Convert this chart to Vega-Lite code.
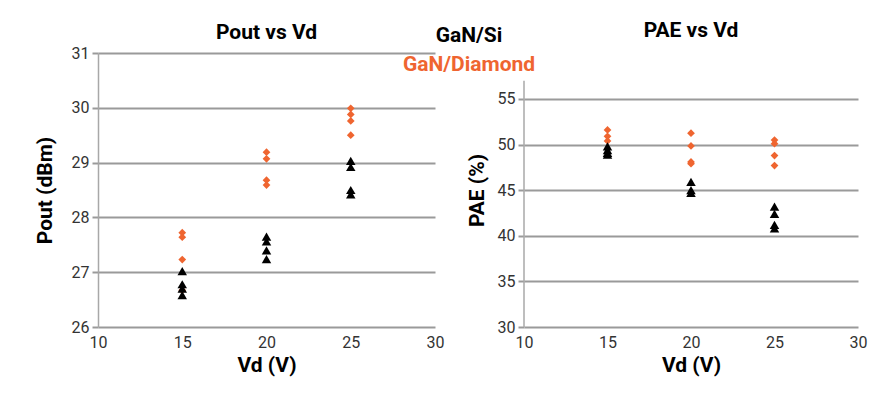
{
  "$schema": "https://vega.github.io/schema/vega-lite/v6.json",
  "background": "white",
  "padding": {"left": 34, "top": 20, "right": 5, "bottom": 5},
  "datasets": {
    "pout": [
      {"vd": 15, "series": "GaN/Diamond", "value": 27.72},
      {"vd": 15, "series": "GaN/Diamond", "value": 27.64},
      {"vd": 15, "series": "GaN/Diamond", "value": 27.23},
      {"vd": 15, "series": "GaN/Diamond", "value": 26.67},
      {"vd": 20, "series": "GaN/Diamond", "value": 29.19},
      {"vd": 20, "series": "GaN/Diamond", "value": 29.07},
      {"vd": 20, "series": "GaN/Diamond", "value": 28.68},
      {"vd": 20, "series": "GaN/Diamond", "value": 28.59},
      {"vd": 25, "series": "GaN/Diamond", "value": 29.99},
      {"vd": 25, "series": "GaN/Diamond", "value": 29.88},
      {"vd": 25, "series": "GaN/Diamond", "value": 29.76},
      {"vd": 25, "series": "GaN/Diamond", "value": 29.5},
      {"vd": 15, "series": "GaN/Si", "value": 27.02},
      {"vd": 15, "series": "GaN/Si", "value": 26.78},
      {"vd": 15, "series": "GaN/Si", "value": 26.7},
      {"vd": 15, "series": "GaN/Si", "value": 26.58},
      {"vd": 20, "series": "GaN/Si", "value": 27.65},
      {"vd": 20, "series": "GaN/Si", "value": 27.56},
      {"vd": 20, "series": "GaN/Si", "value": 27.4},
      {"vd": 20, "series": "GaN/Si", "value": 27.24},
      {"vd": 25, "series": "GaN/Si", "value": 29.03},
      {"vd": 25, "series": "GaN/Si", "value": 28.92},
      {"vd": 25, "series": "GaN/Si", "value": 28.5},
      {"vd": 25, "series": "GaN/Si", "value": 28.42}
    ],
    "pae": [
      {"vd": 15, "series": "GaN/Diamond", "value": 51.6},
      {"vd": 15, "series": "GaN/Diamond", "value": 50.9},
      {"vd": 15, "series": "GaN/Diamond", "value": 50.4},
      {"vd": 20, "series": "GaN/Diamond", "value": 51.25},
      {"vd": 20, "series": "GaN/Diamond", "value": 49.85},
      {"vd": 20, "series": "GaN/Diamond", "value": 48.1},
      {"vd": 20, "series": "GaN/Diamond", "value": 47.9},
      {"vd": 25, "series": "GaN/Diamond", "value": 50.5},
      {"vd": 25, "series": "GaN/Diamond", "value": 50.1},
      {"vd": 25, "series": "GaN/Diamond", "value": 48.8},
      {"vd": 25, "series": "GaN/Diamond", "value": 47.7},
      {"vd": 15, "series": "GaN/Si", "value": 49.8},
      {"vd": 15, "series": "GaN/Si", "value": 49.4},
      {"vd": 15, "series": "GaN/Si", "value": 49.1},
      {"vd": 15, "series": "GaN/Si", "value": 48.9},
      {"vd": 20, "series": "GaN/Si", "value": 45.9},
      {"vd": 20, "series": "GaN/Si", "value": 45.0},
      {"vd": 20, "series": "GaN/Si", "value": 44.7},
      {"vd": 25, "series": "GaN/Si", "value": 43.2},
      {"vd": 25, "series": "GaN/Si", "value": 42.4},
      {"vd": 25, "series": "GaN/Si", "value": 41.2},
      {"vd": 25, "series": "GaN/Si", "value": 40.8}
    ],
    "paeAxis": [
      {"vd": 10, "lo": 30, "hi": 57}
    ]
  },
  "spacing": 22,
  "hconcat": [
    {
      "width": 337,
      "height": 274,
      "title": {"text": "Pout vs Vd", "offset": 2},
      "data": {"name": "pout"},
      "mark": {"type": "point", "filled": true, "opacity": 1},
      "encoding": {
        "x": {
          "field": "vd", "type": "quantitative",
          "scale": {"domain": [10, 30]},
          "axis": {"title": "Vd (V)", "values": [10, 15, 20, 25, 30], "grid": false, "domain": false, "ticks": false, "labelPadding": 7, "labelFlush": false}
        },
        "y": {
          "field": "value", "type": "quantitative",
          "scale": {"domain": [26, 31]},
          "axis": {"title": "Pout (dBm)", "values": [26, 27, 28, 29, 30, 31], "grid": true, "titlePadding": 16}
        },
        "color": {
          "field": "series", "type": "nominal",
          "scale": {"domain": ["GaN/Si", "GaN/Diamond"], "range": ["#000000", "#EF6530"]},
          "legend": {
            "orient": "none", "legendX": 310, "legendY": -28, "title": null,
            "symbolSize": 0, "symbolStrokeWidth": 0, "symbolOpacity": 0,
            "labelAlign": "center", "labelOffset": 40,
            "labelFont": "Roboto", "labelFontSize": 21, "labelFontWeight": "bold",
            "rowPadding": 7,
            "encode": {"labels": {"update": {"fill": {"scale": "color", "field": "value"}}}}
          }
        },
        "shape": {
          "field": "series", "type": "nominal",
          "scale": {"domain": ["GaN/Si", "GaN/Diamond"], "range": ["triangle-up", "diamond"]},
          "legend": null
        },
        "size": {
          "field": "series", "type": "nominal",
          "scale": {"domain": ["GaN/Si", "GaN/Diamond"], "range": [90, 60]},
          "legend": null
        }
      }
    },
    {
      "width": 334,
      "height": 274,
      "title": {"text": "PAE vs Vd", "offset": 12},
      "layer": [
        {
          "data": {"name": "paeAxis"},
          "mark": {"type": "rule", "color": "#a8a8a8", "strokeWidth": 1.5},
          "encoding": {
            "x": {"field": "vd", "type": "quantitative", "scale": {"domain": [10, 30]}},
            "y": {"field": "lo", "type": "quantitative", "scale": {"domain": [30, 60.04]}},
            "y2": {"field": "hi"}
          }
        },
        {
          "data": {"name": "pae"},
          "mark": {"type": "point", "filled": true, "opacity": 1},
          "encoding": {
            "x": {
              "field": "vd", "type": "quantitative",
              "scale": {"domain": [10, 30]},
              "axis": {"title": "Vd (V)", "values": [10, 15, 20, 25, 30], "grid": false, "domain": false, "ticks": false, "labelPadding": 7, "labelFlush": false}
            },
            "y": {
              "field": "value", "type": "quantitative",
              "scale": {"domain": [30, 60.04]},
              "axis": {"title": "PAE (%)", "values": [30, 35, 40, 45, 50, 55], "grid": true, "domain": false, "titlePadding": 10}
            },
            "color": {
              "field": "series", "type": "nominal",
              "scale": {"domain": ["GaN/Si", "GaN/Diamond"], "range": ["#000000", "#EF6530"]},
              "legend": {
                "orient": "none", "legendX": 310, "legendY": -28, "title": null,
                "symbolSize": 0, "symbolStrokeWidth": 0, "symbolOpacity": 0,
                "labelAlign": "center", "labelOffset": 40,
                "labelFont": "Roboto", "labelFontSize": 21, "labelFontWeight": "bold",
                "rowPadding": 7,
                "encode": {"labels": {"update": {"fill": {"scale": "color", "field": "value"}}}}
              }
            },
            "shape": {
              "field": "series", "type": "nominal",
              "scale": {"domain": ["GaN/Si", "GaN/Diamond"], "range": ["triangle-up", "diamond"]},
              "legend": null
            },
            "size": {
              "field": "series", "type": "nominal",
              "scale": {"domain": ["GaN/Si", "GaN/Diamond"], "range": [90, 60]},
              "legend": null
            }
          }
        }
      ]
    }
  ],
  "config": {
    "view": {"stroke": null},
    "font": "Roboto",
    "title": {"font": "Roboto", "fontSize": 21, "fontWeight": "bold", "color": "#000000", "anchor": "middle"},
    "axis": {
      "gridColor": "#9a9a9a", "gridWidth": 2, "gridOpacity": 1,
      "domainColor": "#a8a8a8", "domainWidth": 1.5,
      "tickColor": "#9a9a9a", "tickWidth": 2, "tickSize": 6,
      "labelFont": "Roboto", "labelFontSize": 16, "labelColor": "#333333", "labelPadding": 3,
      "titleFont": "Roboto", "titleFontSize": 21, "titleFontWeight": "bold", "titleColor": "#000000"
    }
  }
}
